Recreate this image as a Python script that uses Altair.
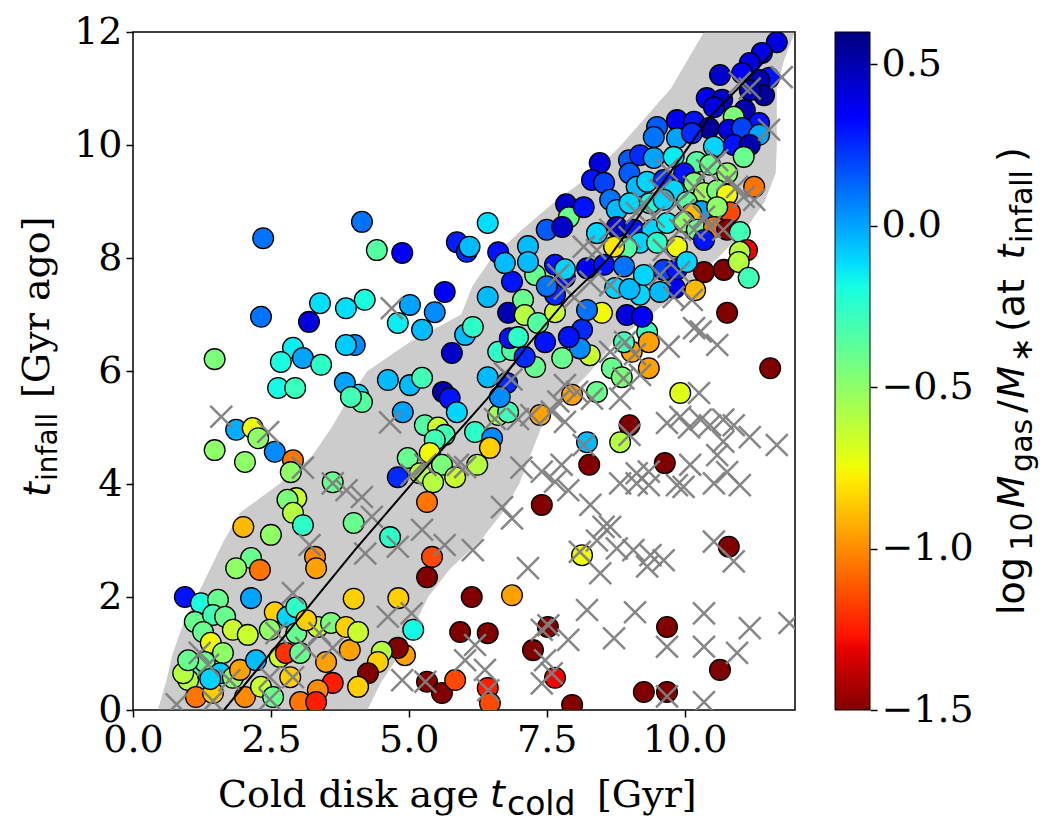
import altair as alt
import pandas as pd

# ---------------- data ----------------
circ_x = [2.36,4.15,4.42,4.88,6.43,5.87,6.05,6.1,6.62,7.16,7.5,7.85,7.9,7.78,
 11.67,11.4,11.18,10.64,11.04,11.53,11.35,11.44,11.18,10.4,10.68,10.53,11.09,10.89,11.35,9.5,9.86,10.17,10.44,10.8,11.04,11.35,
 9.44,9.86,10.13,10.53,10.89,11.18,11.07,8.46,8.99,9.19,9.44,9.8,10.22,10.46,10.77,9.99,8.32,8.54,9.0,9.13,9.32,9.62,9.8,
 10.17,10.35,10.59,11.26,10.77,8.17,8.65,8.77,9.0,9.37,9.62,10.04,10.3,10.12,10.82,10.59,8.77,8.41,9.08,9.41,9.68,9.99,
 10.22,10.53,10.77,11.0,10.35,11.13,11.0,9.19,9.5,9.86,8.95,8.72,
 10.35,10.71,10.98,11.16,10.19,9.82,10.77,11.55,9.92,9.0,8.83,9.64,8.27,8.23,9.04,9.35,8.68,8.86,8.41,8.28,9.32,9.35,8.9,
 8.5,8.95,9.23,8.14,8.23,8.1,8.74,9.19,9.0,9.62,9.86,8.23,8.54,8.9,9.26,10.04,9.55,
 5.65,6.43,4.2,5.02,5.47,4.8,5.24,6.02,6.16,5.78,4.62,5.02,5.24,5.62,5.74,4.89,5.87,5.29,5.53,5.65,5.47,6.2,6.51,6.47,6.62,
 6.8,7.38,4.98,5.38,5.2,5.6,5.84,6.24,4.8,5.44,6.62,6.87,7.29,7.1,6.43,6.78,6.65,6.83,6.98,6.8,7.07,7.1,7.34,7.29,6.87,
 6.74,7.16,7.65,7.47,7.78,7.9,7.65,7.83,7.5,7.96,4.08,4.15,4.02,7.65,7.83,
 3.39,3.86,2.32,3.19,1.48,2.9,2.68,3.08,3.41,3.86,2.63,2.94,3.84,3.95,1.87,2.17,2.27,2.57,1.48,2.03,2.9,2.86,3.62,
 2.96,2.8,2.9,3.08,2.0,2.5,3.3,3.32,2.14,1.87,2.3,0.94,1.23,1.54,2.14,1.12,1.45,1.67,1.27,1.81,2.08,2.57,2.8,2.96,2.48,
 2.96,1.41,1.63,1.09,1.0,1.3,1.58,1.81,1.14,1.45,1.94,2.03,2.23,2.32,2.66,2.77,2.85,2.54,3.03,3.35,3.14,3.59,3.86,3.5,
 3.62,3.35,3.03,3.32,3.93,4.0,4.0,0.91,1.0,1.4,
 5.33,4.66,5.42,5.33,4.81,6.14,6.87,5.08,5.93,6.43,7.52,7.25,4.93,4.8,4.08,4.51,4.44,4.26,4.08,5.33,5.6,5.84,6.43,6.47,
 7.65,7.96,7.41,
 10.8,9.68,10.64,9.26,9.68,8.14]
circ_y = [8.35,8.64,8.14,8.09,8.62,8.28,8.11,8.2,8.1,8.21,8.5,8.95,8.72,8.55,
 11.82,11.63,11.45,11.24,11.27,11.19,11.15,10.88,10.97,10.83,10.8,10.67,10.62,10.5,10.39,10.32,10.44,10.41,10.3,10.27,10.3,10.18,
 10.14,10.12,10.21,9.97,10.0,10.0,9.79,9.68,9.73,9.82,9.77,9.79,9.7,9.65,9.5,9.5,9.38,9.33,9.5,9.26,9.35,9.38,9.2,
 9.33,9.15,9.2,9.26,9.12,8.9,9.03,8.85,8.97,8.97,9.03,8.99,8.83,8.78,8.81,8.9,8.55,8.44,8.5,8.5,8.62,8.64,
 8.5,8.55,8.5,8.46,8.32,8.14,8.11,8.27,8.27,8.2,8.18,8.2,
 7.75,7.79,7.93,7.65,7.43,7.47,7.03,6.05,5.61,5.04,4.74,4.37,4.34,4.74,6.34,6.05,6.05,5.89,5.63,6.28,6.69,6.51,6.51,
 7.03,6.99,6.96,6.73,7.08,6.4,7.47,7.35,7.45,7.79,7.8,7.82,7.88,7.85,7.7,7.93,7.4,
 7.4,7.31,7.26,7.17,7.04,6.85,6.73,6.64,6.78,6.32,5.84,5.75,5.88,5.63,5.52,5.27,5.27,5.04,5.0,4.87,4.78,4.92,4.81,4.64,5.22,
 5.27,5.22,4.46,4.55,4.19,4.34,4.12,4.34,4.12,4.03,6.34,6.37,6.07,6.25,5.89,5.79,5.54,6.58,6.6,7.03,7.26,6.99,6.85,7.7,7.58,
 7.91,7.93,7.04,6.51,6.23,6.6,7.35,7.66,7.5,5.58,5.58,5.45,6.46,7.88,7.8,
 7.2,7.11,6.96,6.87,6.21,6.41,6.16,6.23,6.11,6.46,5.7,5.7,5.79,5.54,4.96,4.99,4.81,4.57,4.6,4.39,4.42,4.21,4.03,
 3.75,3.72,3.49,3.27,3.24,3.1,2.71,2.51,2.69,2.51,2.48,2.0,1.89,1.95,1.98,1.56,1.68,1.65,1.38,1.42,1.33,1.73,1.65,1.82,1.42,
 1.36,1.19,1.01,0.76,0.53,0.85,0.65,0.57,0.23,0.3,0.71,0.23,0.88,0.41,0.94,1.01,0.58,0.23,1.01,1.47,1.59,1.54,1.47,0.85,
 0.48,0.35,0.14,0.14,1.06,1.97,3.31,0.65,0.88,0.55,
 3.68,3.06,2.71,2.35,1.98,2.0,2.03,1.42,1.38,1.36,1.47,1.06,0.97,1.1,1.38,1.03,0.85,0.65,0.41,0.5,0.3,0.53,0.39,0.12,
 0.57,0.09,3.63,
 2.89,1.47,0.71,0.32,0.32,2.74]
circ_v = [0.1,0.1,-0.35,0.35,-0.12,0.28,0.25,-0.05,0.3,-0.05,0.15,0.45,-0.4,0.45,
 0.4,0.38,0.4,0.45,0.35,0.3,0.5,0.55,0.5,0.35,0.45,0.4,0.5,-0.45,0.3,0.15,0.35,0.3,0.55,0.4,0.2,0.0,
 0.1,0.0,0.25,-0.1,0.3,0.5,-0.4,0.4,0.15,0.25,0.0,-0.15,-0.35,-0.4,-0.5,0.3,0.3,0.2,0.15,-0.05,-0.1,0.25,-0.1,
 -0.45,-0.55,-0.45,-1.05,-0.75,0.3,0.1,-0.05,-0.1,-0.2,-0.1,-0.35,0.0,-0.9,-1.15,-0.5,0.45,-0.1,0.3,-0.1,-0.15,-0.5,
 -0.4,-1.05,-1.5,-0.3,0.3,-1.3,-0.6,-0.1,-0.25,-0.75,-0.35,-0.8,
 -1.5,-1.5,-0.6,-0.3,-0.9,0.35,-1.5,-1.5,-0.7,-1.5,-0.6,-1.5,-1.5,-0.05,-0.95,-0.95,-0.4,-0.45,-0.4,-0.65,-0.3,-0.95,-0.3,
 -0.75,0.4,0.35,0.25,0.1,0.05,-0.1,-0.1,-0.05,0.2,0.3,0.35,0.3,0.1,-0.1,-0.1,-0.05,
 0.35,-0.05,-0.2,0.0,0.05,-0.15,-0.05,-0.05,-0.25,0.45,-0.05,-0.05,-0.3,0.5,0.3,0.0,-0.1,-0.35,-0.65,-0.3,-0.3,-0.25,0.05,-0.85,-0.55,
 -0.3,-0.95,-0.4,-0.75,-0.6,-0.45,-0.65,-0.6,0.25,-0.6,-0.25,-0.35,-0.4,0.25,-0.05,0.25,0.05,0.3,-0.25,0.5,-0.4,-0.6,-0.35,-0.4,0.3,
 -0.05,-0.05,-0.65,0.3,-0.4,0.3,0.25,0.3,0.1,-0.95,-0.1,-0.35,0.05,0.3,-0.1,
 -0.12,-0.12,0.1,0.4,-0.45,-0.15,-0.2,0.0,-0.25,-0.08,-0.18,-0.28,0.0,-0.3,-0.02,-0.75,-0.5,0.05,-0.5,-0.5,-1.05,-0.5,-0.4,
 -0.65,-0.45,-0.6,-0.25,-0.9,-0.5,-1.0,-0.95,-0.4,-0.5,-1.05,0.3,-0.2,-0.4,0.0,-0.4,-0.3,-0.4,-0.4,-0.65,-0.65,-0.85,-0.1,-0.25,-0.5,
 -0.4,-0.75,-0.5,-0.25,-0.6,-0.4,-0.08,-0.5,-1.05,-0.85,-0.95,-1.0,-0.05,-0.65,-0.65,-1.2,-0.85,-0.4,-0.4,-0.65,-0.85,-0.45,-0.85,-0.95,
 -1.25,-1.0,-1.05,-1.25,-0.95,-0.85,-0.4,-0.6,-0.4,-0.1,
 -1.05,-0.25,-1.15,-1.5,-0.85,-1.5,-0.95,-0.18,-1.5,-1.5,-1.5,-1.5,-0.95,-1.5,-0.65,-0.6,-0.85,-1.5,-0.85,-1.5,-1.5,-1.15,-1.25,-1.15,
 -1.3,-1.5,-1.5,
 -1.5,-1.5,-1.5,-1.5,-1.5,-0.75]

cross_x = [11.76,11.53,11.18,11.0,10.17,10.41,10.59,10.77,10.95,11.07,11.26,9.68,9.56,9.26,9.13,9.86,9.98,10.35,10.46,10.7,
 10.17,9.92,9.44,9.0,8.65,8.41,8.17,9.62,
 8.29,8.65,9.55,9.9,9.8,10.13,10.17,10.29,10.59,9.71,8.92,9.1,8.65,8.89,9.19,8.32,8.83,10.26,9.68,9.92,10.08,10.29,10.46,
 10.7,10.89,11.18,11.67,10.59,10.7,10.77,10.1,9.13,9.35,9.0,8.05,8.17,
 8.83,9.13,9.35,9.86,9.98,10.53,11.0,8.29,8.53,8.65,8.41,8.77,9.07,9.38,9.62,9.32,8.47,10.53,10.89,8.23,9.1,8.72,10.35,
 10.35,9.68,11.18,10.95,11.9,10.35,9.68,
 4.15,4.33,4.8,5.24,5.65,6.16,4.21,6.69,6.87,7.16,7.89,4.62,5.05,6.2,6.02,6.38,4.88,5.3,7.41,7.53,7.89,7.47,7.59,7.41,6.44,8.1,
 3.2,2.9,2.6,1.21,1.36,1.75,0.79,1.45,2.48,2.9,3.14,3.38,3.62,3.87,3.62,2.48,
 1.6,2.45,3.08,
 4.69,4.66,7.71,7.83,8.0,6.74,6.86,6.56,6.98,7.22,7.83,7.71,7.83,7.59,5.89,6.02,5.3,5.05,7.04,7.41,7.77,7.65]
cross_y = [11.2,10.27,11.0,11.1,9.26,9.55,9.73,9.38,9.26,9.08,9.03,9.56,9.2,8.97,8.8,8.97,8.85,8.73,8.55,8.5,
 8.5,8.5,8.73,8.37,8.5,8.14,8.2,8.14,
 7.58,7.52,7.7,7.75,7.31,7.26,6.76,6.7,6.46,6.43,6.51,6.3,6.34,5.87,5.93,5.51,5.51,5.61,5.08,5.19,5.0,5.14,5.04,
 5.14,5.04,4.83,4.69,4.51,4.75,4.21,4.34,4.19,4.22,4.87,5.63,4.69,
 4.01,4.01,3.98,3.98,3.95,4.01,3.98,3.63,3.24,3.24,3.0,2.86,2.83,2.74,2.65,2.54,2.42,2.98,2.63,1.77,1.73,1.27,1.71,
 1.12,1.12,1.45,1.01,1.54,0.14,0.24,
 3.77,3.42,2.89,3.19,2.92,2.83,2.77,3.59,3.39,2.51,3.89,1.65,1.71,1.15,0.88,0.71,0.53,0.5,1.42,1.5,1.24,0.88,0.65,0.47,0.35,2.8,
 2.92,2.07,1.36,1.01,0.8,0.53,0.1,0.16,0.19,0.58,1.1,1.36,1.1,3.89,4.01,0.58,
 5.19,4.92,4.29,
 7.11,5.09,7.7,7.46,7.3,5.96,5.85,5.15,5.15,5.22,5.75,5.46,5.1,5.28,4.34,4.3,4.34,4.16,4.29,4.22,4.34,4.04]

band_y = [0,0.5,1,1.5,2,2.5,3,3.5,4,4.5,5,5.5,6,6.5,7,7.5,8,8.5,9,9.5,10,10.5,11,11.5,12]
band_lo = [0.45,0.6,0.72,0.9,1.15,1.4,1.65,1.95,2.65,3.25,3.6,3.9,4.25,5.0,5.95,6.15,6.5,7.05,7.65,8.35,8.85,9.3,9.75,10.05,10.35]
band_hi = [4.25,4.5,4.85,5.1,5.35,5.75,6.3,6.7,7.0,7.2,7.4,7.8,8.3,8.7,9.4,10.0,10.6,11.1,11.45,11.65,11.67,11.67,11.67,11.8,12.0]

line_x = [1.65,4.02,5.11,6.43,7.16,7.88,8.59,9.86,10.46,11.3,11.62]
line_y = [0.0,2.83,4.07,5.52,6.46,7.29,7.96,9.68,10.5,11.33,11.68]

x_ticks = [0, 2.5, 5, 7.5, 10]
y_ticks = [0, 2, 4, 6, 8, 10, 12]
cbar_ticks = [-1.5, -1.0, -0.5, 0.0, 0.5]
cbar_range = [-1.5, 0.6]

# jet_r colormap pieces (value -> colour)
jet_dom = [-1.5, -1.311, -1.269, -0.786, -0.744, -0.45, -0.1875, -0.114, 0.3375, 0.6]
jet_col = ["#800000", "#e80000", "#ff1300", "#ffec00", "#eeff08", "#7bff7b", "#15ffe2", "#00dbff", "#0000ff", "#000080"]

# ---------------- chart ----------------
W, H = 662, 678
SERIF = "DejaVu Serif"
SANS = "DejaVu Sans"
FS = 38
SUB = 30

circles = pd.DataFrame({"x": circ_x, "y": circ_y, "v": circ_v})
crosses = pd.DataFrame({"x": cross_x, "y": cross_y})
band = pd.DataFrame({"y": band_y, "xl": band_lo, "xr": band_hi})
line = pd.DataFrame({"x": line_x, "y": line_y})

xs = alt.Scale(domain=[0, 12], nice=False, zero=False)
ys = alt.Scale(domain=[0, 12], nice=False, zero=False)
cs = alt.Scale(domain=jet_dom, range=jet_col, interpolate="rgb", clamp=True)

axis_style = dict(labelFont=SERIF, labelFontSize=FS, labelColor="black", tickColor="black",
                  tickSize=7, tickWidth=1.5, domain=False, grid=False, title=None, labelPadding=4)
xaxis = alt.Axis(values=x_ticks, format=".1f", labelFlush=False, **axis_style)
yaxis = alt.Axis(values=y_ticks, format="d", **axis_style)

band_c = alt.Chart(band).mark_area(orient="horizontal", color="#808080", opacity=0.4, clip=True).encode(
    y=alt.Y("y:Q", scale=ys, axis=yaxis, sort=None),
    x=alt.X("xl:Q", scale=xs, axis=xaxis),
    x2="xr:Q",
)
circ_c = alt.Chart(circles).mark_point(shape="circle", filled=True, size=430, stroke="black",
                                        strokeWidth=1.3, opacity=1, clip=True).encode(
    x=alt.X("x:Q", scale=xs), y=alt.Y("y:Q", scale=ys),
    fill=alt.Fill("v:Q", scale=cs, legend=None),
)
cross_c = alt.Chart(crosses).mark_point(shape="M-1,-1L1,1M1,-1L-1,1", filled=False, size=480,
                                        stroke="#808080", strokeWidth=2.5, opacity=0.95, clip=True).encode(
    x=alt.X("x:Q", scale=xs), y=alt.Y("y:Q", scale=ys),
)
line_c = alt.Chart(line).mark_line(color="black", strokeWidth=2, clip=True).encode(
    x=alt.X("x:Q", scale=xs), y=alt.Y("y:Q", scale=ys),
)
main = alt.layer(band_c, circ_c, cross_c, line_c)

grad = alt.Gradient(
    gradient="linear", x1=0, x2=0, y1=0, y2=1,
    stops=[alt.GradientStop(offset=(cbar_range[1] - v) / (cbar_range[1] - cbar_range[0]), color=c)
           for v, c in sorted(zip(jet_dom, jet_col), key=lambda t: -t[0])],
)
cbar = alt.Chart(pd.DataFrame({"lo": [cbar_range[0]], "hi": [cbar_range[1]]})).mark_rect(
    fill=grad, stroke="black", strokeWidth=1).encode(
    x=alt.value(702), x2=alt.value(737),
    y=alt.Y("lo:Q", scale=alt.Scale(domain=cbar_range, nice=False, zero=False),
            axis=alt.Axis(orient="right", offset=75, values=cbar_ticks, format=".1f", **axis_style)),
    y2="hi:Q",
)

one = pd.DataFrame({"a": [0]})


def seg(text, x, y, font, size, style="normal", angle=0):
    return alt.Chart(one).mark_text(text=text, font=font, fontSize=size, fontStyle=style, angle=angle,
                                    align="left", baseline="alphabetic", color="black").encode(
        x=alt.value(x), y=alt.value(y))


texts = [
    # x-axis title
    seg("Cold disk age", 85, 775, SERIF, FS),
    seg("t", 357, 775, SANS, FS, "italic"),
    seg("cold", 374, 783, SANS, 33),
    seg("[Gyr]", 464, 775, SERIF, FS),
    # y-axis title (rotated)
    seg("t", -83, 465, SANS, FS, "italic", 270),
    seg("infall", -76, 449, SANS, 28, "normal", 270),
    seg("[Gyr ago]", -84, 366, SERIF, FS, "normal", 270),
]

# colour-bar title, rotated, built from pieces (None = a word gap)
SW = {"(": .390, ")": .390, "∗": .5, "/": .337, "0": .636, "1": .636, "M": .863, "a": .613,
      "f": .352, "g": .635, "i": .278, "l": .278, "n": .634, "o": .612, "s": .521, "t": .392}
pieces = [("log", FS, "normal", 0), ("10", SUB, "normal", 8), ("M", FS, "italic", 0), ("gas", SUB, "normal", 8),
          ("/", FS, "normal", 0), ("M", FS, "italic", 0), ("∗", SUB, "normal", 8), None,
          ("(at", FS, "normal", 0), None, ("t", FS, "italic", 0), ("infall", SUB, "normal", 8),
          (")", FS, "normal", 0)]
pos = 583
for p in pieces:
    if p is None:
        pos -= 0.36 * FS
        continue
    txt, size, style, shift = p
    texts.append(seg(txt, 891 + shift, pos, SANS, size, style, 270))
    pos -= sum(SW.get(ch, 0.6) for ch in txt) * size * 1.11

chart = alt.layer(main, cbar, *texts).resolve_scale(y="independent").properties(
    width=W, height=H,
    autosize=alt.AutoSizeParams(type="none"),
    padding={"left": 125, "top": 24, "right": 259, "bottom": 119},
).configure_view(stroke="black", strokeWidth=1.5)

chart.save("out.html", embed_options={"renderer": "svg", "actions": False})
